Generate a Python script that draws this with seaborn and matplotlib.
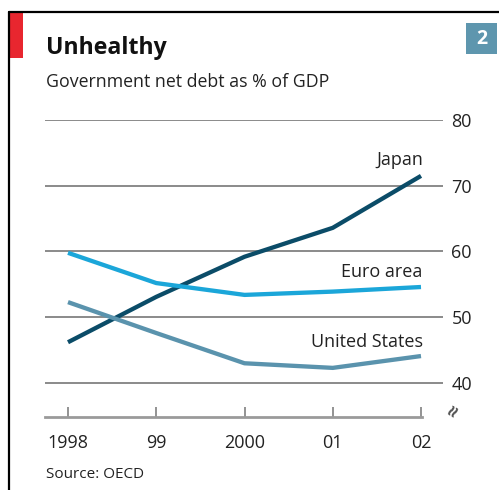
import matplotlib
matplotlib.use("Agg")
import matplotlib.pyplot as plt
from matplotlib.patches import Rectangle
from matplotlib.lines import Line2D
import pandas as pd
import seaborn as sns

years = [1998, 1999, 2000, 2001, 2002]
year_labels = ["1998", "99", "2000", "01", "02"]
japan = [46.2, 53.1, 59.2, 63.6, 71.5]
euro_area = [59.8, 55.2, 53.4, 53.9, 54.6]
united_states = [52.3, 47.6, 43.0, 42.3, 44.1]
y_ticks = [40, 50, 60, 70, 80]

series_names = ["Japan", "Euro area", "United States"]
series_values = [japan, euro_area, united_states]
palette = {"Japan": "#0b4c68", "Euro area": "#1ba6d9", "United States": "#5a93ad"}

df = pd.DataFrame(
    [(name, yr, v) for name, vals in zip(series_names, series_values)
     for yr, v in zip(years, vals)],
    columns=["country", "year", "debt"],
)

sns.set_theme(style="white")
plt.rcParams["font.family"] = ["Open Sans", "DejaVu Sans"]

W, H = 499, 490
fig = plt.figure(figsize=(W / 100, H / 100), dpi=100)


def fx(px):
    return px / W


def fy(py):
    return 1 - py / H


# plotting area in pixel terms
left_px, right_px, top_px, bottom_px = 45, 443, 120, 417
ax = fig.add_axes([fx(left_px), fy(bottom_px), fx(right_px - left_px), (bottom_px - top_px) / H])

px_per_year = (421 - 68) / 4
x0 = 1998 - (68 - left_px) / px_per_year
x1 = 2002 + (right_px - 421) / px_per_year
ax.set_xlim(x0, x1)
px_per_unit = (383 - 120) / 40
ax.set_ylim(40 - (bottom_px - 383) / px_per_unit, 80)

for yv in y_ticks:
    ax.axhline(yv, color="#8a8a8a", lw=1.4, zorder=1)

sns.lineplot(data=df, x="year", y="debt", hue="country", palette=palette,
             hue_order=series_names, lw=3.1, ax=ax, legend=False, zorder=3)
for line in ax.get_lines():
    line.set_solid_capstyle("butt")
    line.set_solid_joinstyle("round")

for s in ["top", "left", "right"]:
    ax.spines[s].set_visible(False)
ax.spines["bottom"].set_color("#9a9a9a")
ax.spines["bottom"].set_linewidth(2.0)
ax.spines["bottom"].set_bounds(x0, 2002.01)

ax.set_xticks(years)
ax.set_xticklabels(year_labels)
ax.tick_params(axis="x", bottom=True, direction="in", length=7, width=1.3,
               color="#8a8a8a", pad=12, labelsize=13, labelcolor="#222222")

ax.yaxis.tick_right()
ax.set_yticks(y_ticks)
ax.set_yticklabels([str(v) for v in y_ticks])
ax.tick_params(axis="y", length=0, pad=6, labelsize=13, labelcolor="#222222")
ax.set_xlabel("")
ax.set_ylabel("")

# series labels at the right end of each line
label_pos = {"Japan": 73.9, "Euro area": 56.9, "United States": 46.2}
for name in series_names:
    ax.text(2002.02, label_pos[name], name, ha="right", va="center",
            fontsize=13, color="#222222")

# axis break marker
fig.text(fx(455), fy(412), "≈", rotation=60, ha="center", va="center",
         fontsize=15, fontweight="bold", color="#555555")

# frame, red tab and chart number
fig.add_artist(Line2D([fx(9), fx(499)], [fy(12), fy(12)], color="black", lw=1.6))
fig.add_artist(Line2D([fx(9), fx(9)], [fy(12), fy(490)], color="black", lw=1.6))
fig.add_artist(Rectangle((fx(10), fy(58)), fx(13), (58 - 13) / H,
                         facecolor="#e8262f", edgecolor="none"))
fig.add_artist(Rectangle((fx(466), fy(54)), fx(31), (54 - 23) / H,
                         facecolor="#5e96ae", edgecolor="none"))
fig.text(fx(481.5), fy(38.5), "2", ha="center", va="center", fontsize=14,
         fontweight="bold", color="white")

fig.text(fx(46), fy(48), "Unhealthy", ha="left", va="center", fontsize=16.7,
         fontweight="bold", color="#111111")
fig.text(fx(46), fy(82), "Government net debt as % of GDP", ha="left",
         va="center", fontsize=12.8, color="#222222")
fig.text(fx(46), fy(474), "Source: OECD", ha="left", va="center",
         fontsize=11, color="#222222")

fig.savefig("out.png", dpi=100, facecolor="white")
